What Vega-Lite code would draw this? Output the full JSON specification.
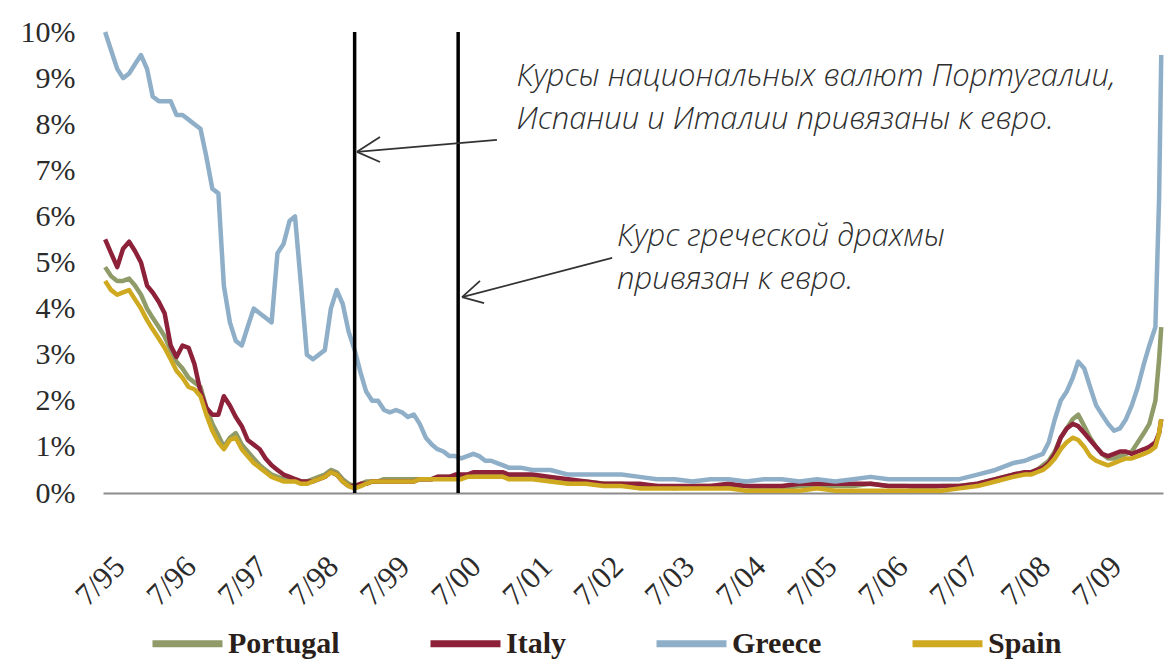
{
  "$schema": "https://vega.github.io/schema/vega-lite/v6.json",
  "width": 1060,
  "height": 461,
  "autosize": {"type": "none"},
  "padding": {"left": 103, "top": 32, "right": 2, "bottom": 173},
  "background": "white",
  "config": {"view": {"stroke": null}},
  "datasets": {
    "spreads": [
      {"date":"1995-07-01","Portugal":4.9,"Italy":5.5,"Greece":10.0,"Spain":4.6},
      {"date":"1995-08-01","Portugal":4.7,"Italy":5.2,"Greece":9.6,"Spain":4.4},
      {"date":"1995-09-01","Portugal":4.6,"Italy":4.9,"Greece":9.2,"Spain":4.3},
      {"date":"1995-10-01","Portugal":4.6,"Italy":5.3,"Greece":9.0,"Spain":4.35},
      {"date":"1995-11-01","Portugal":4.65,"Italy":5.45,"Greece":9.1,"Spain":4.4},
      {"date":"1995-12-01","Portugal":4.5,"Italy":5.25,"Greece":9.3,"Spain":4.2},
      {"date":"1996-01-01","Portugal":4.3,"Italy":5.0,"Greece":9.5,"Spain":4.0},
      {"date":"1996-02-01","Portugal":4.0,"Italy":4.5,"Greece":9.2,"Spain":3.75},
      {"date":"1996-03-01","Portugal":3.8,"Italy":4.35,"Greece":8.6,"Spain":3.55},
      {"date":"1996-04-01","Portugal":3.6,"Italy":4.15,"Greece":8.5,"Spain":3.35},
      {"date":"1996-05-01","Portugal":3.4,"Italy":3.9,"Greece":8.5,"Spain":3.15},
      {"date":"1996-06-01","Portugal":3.1,"Italy":3.2,"Greece":8.5,"Spain":2.9},
      {"date":"1996-07-01","Portugal":2.85,"Italy":2.95,"Greece":8.2,"Spain":2.65},
      {"date":"1996-08-01","Portugal":2.7,"Italy":3.2,"Greece":8.2,"Spain":2.5},
      {"date":"1996-09-01","Portugal":2.5,"Italy":3.15,"Greece":8.1,"Spain":2.3},
      {"date":"1996-10-01","Portugal":2.4,"Italy":2.8,"Greece":8.0,"Spain":2.25},
      {"date":"1996-11-01","Portugal":2.3,"Italy":2.2,"Greece":7.9,"Spain":2.1},
      {"date":"1996-12-01","Portugal":1.85,"Italy":1.85,"Greece":7.3,"Spain":1.7},
      {"date":"1997-01-01","Portugal":1.5,"Italy":1.7,"Greece":6.6,"Spain":1.35},
      {"date":"1997-02-01","Portugal":1.25,"Italy":1.7,"Greece":6.5,"Spain":1.1},
      {"date":"1997-03-01","Portugal":1.0,"Italy":2.1,"Greece":4.5,"Spain":0.95},
      {"date":"1997-04-01","Portugal":1.2,"Italy":1.9,"Greece":3.7,"Spain":1.15},
      {"date":"1997-05-01","Portugal":1.3,"Italy":1.65,"Greece":3.3,"Spain":1.2},
      {"date":"1997-06-01","Portugal":1.05,"Italy":1.45,"Greece":3.2,"Spain":0.95},
      {"date":"1997-07-01","Portugal":0.9,"Italy":1.15,"Greece":3.6,"Spain":0.8},
      {"date":"1997-08-01","Portugal":0.75,"Italy":1.05,"Greece":4.0,"Spain":0.65},
      {"date":"1997-09-01","Portugal":0.6,"Italy":0.95,"Greece":3.9,"Spain":0.55},
      {"date":"1997-10-01","Portugal":0.5,"Italy":0.75,"Greece":3.8,"Spain":0.45},
      {"date":"1997-11-01","Portugal":0.4,"Italy":0.6,"Greece":3.7,"Spain":0.35},
      {"date":"1997-12-01","Portugal":0.35,"Italy":0.5,"Greece":5.2,"Spain":0.3},
      {"date":"1998-01-01","Portugal":0.3,"Italy":0.4,"Greece":5.4,"Spain":0.25},
      {"date":"1998-02-01","Portugal":0.3,"Italy":0.35,"Greece":5.9,"Spain":0.25},
      {"date":"1998-03-01","Portugal":0.3,"Italy":0.3,"Greece":6.0,"Spain":0.25},
      {"date":"1998-04-01","Portugal":0.25,"Italy":0.25,"Greece":4.5,"Spain":0.2},
      {"date":"1998-05-01","Portugal":0.25,"Italy":0.25,"Greece":3.0,"Spain":0.2},
      {"date":"1998-06-01","Portugal":0.3,"Italy":0.25,"Greece":2.9,"Spain":0.25},
      {"date":"1998-07-01","Portugal":0.35,"Italy":0.3,"Greece":3.0,"Spain":0.3},
      {"date":"1998-08-01","Portugal":0.4,"Italy":0.35,"Greece":3.1,"Spain":0.35},
      {"date":"1998-09-01","Portugal":0.5,"Italy":0.45,"Greece":4.0,"Spain":0.45},
      {"date":"1998-10-01","Portugal":0.45,"Italy":0.4,"Greece":4.4,"Spain":0.4},
      {"date":"1998-11-01","Portugal":0.3,"Italy":0.25,"Greece":4.1,"Spain":0.25},
      {"date":"1998-12-01","Portugal":0.2,"Italy":0.15,"Greece":3.5,"Spain":0.15},
      {"date":"1999-01-01","Portugal":0.15,"Italy":0.15,"Greece":3.1,"Spain":0.1},
      {"date":"1999-02-01","Portugal":0.2,"Italy":0.2,"Greece":2.6,"Spain":0.15},
      {"date":"1999-03-01","Portugal":0.25,"Italy":0.2,"Greece":2.2,"Spain":0.2},
      {"date":"1999-04-01","Portugal":0.25,"Italy":0.25,"Greece":2.0,"Spain":0.25},
      {"date":"1999-05-01","Portugal":0.25,"Italy":0.25,"Greece":2.0,"Spain":0.25},
      {"date":"1999-06-01","Portugal":0.3,"Italy":0.25,"Greece":1.8,"Spain":0.25},
      {"date":"1999-07-01","Portugal":0.3,"Italy":0.25,"Greece":1.75,"Spain":0.25},
      {"date":"1999-08-01","Portugal":0.3,"Italy":0.25,"Greece":1.8,"Spain":0.25},
      {"date":"1999-09-01","Portugal":0.3,"Italy":0.25,"Greece":1.75,"Spain":0.25},
      {"date":"1999-10-01","Portugal":0.3,"Italy":0.25,"Greece":1.65,"Spain":0.25},
      {"date":"1999-11-01","Portugal":0.3,"Italy":0.25,"Greece":1.7,"Spain":0.25},
      {"date":"1999-12-01","Portugal":0.3,"Italy":0.3,"Greece":1.5,"Spain":0.3},
      {"date":"2000-01-01","Portugal":0.3,"Italy":0.3,"Greece":1.2,"Spain":0.3},
      {"date":"2000-02-01","Portugal":0.3,"Italy":0.3,"Greece":1.05,"Spain":0.3},
      {"date":"2000-03-01","Portugal":0.35,"Italy":0.35,"Greece":0.95,"Spain":0.3},
      {"date":"2000-04-01","Portugal":0.35,"Italy":0.35,"Greece":0.9,"Spain":0.3},
      {"date":"2000-05-01","Portugal":0.35,"Italy":0.35,"Greece":0.8,"Spain":0.3},
      {"date":"2000-06-01","Portugal":0.35,"Italy":0.4,"Greece":0.8,"Spain":0.3},
      {"date":"2000-07-01","Portugal":0.35,"Italy":0.4,"Greece":0.75,"Spain":0.3},
      {"date":"2000-08-01","Portugal":0.4,"Italy":0.4,"Greece":0.8,"Spain":0.35},
      {"date":"2000-09-01","Portugal":0.4,"Italy":0.45,"Greece":0.85,"Spain":0.35},
      {"date":"2000-10-01","Portugal":0.4,"Italy":0.45,"Greece":0.8,"Spain":0.35},
      {"date":"2000-11-01","Portugal":0.4,"Italy":0.45,"Greece":0.7,"Spain":0.35},
      {"date":"2000-12-01","Portugal":0.4,"Italy":0.45,"Greece":0.7,"Spain":0.35},
      {"date":"2001-01-01","Portugal":0.4,"Italy":0.45,"Greece":0.65,"Spain":0.35},
      {"date":"2001-02-01","Portugal":0.4,"Italy":0.45,"Greece":0.6,"Spain":0.35},
      {"date":"2001-03-01","Portugal":0.35,"Italy":0.4,"Greece":0.55,"Spain":0.3},
      {"date":"2001-04-01","Portugal":0.35,"Italy":0.4,"Greece":0.55,"Spain":0.3},
      {"date":"2001-05-01","Portugal":0.35,"Italy":0.4,"Greece":0.55,"Spain":0.3},
      {"date":"2001-07-01","Portugal":0.35,"Italy":0.4,"Greece":0.5,"Spain":0.3},
      {"date":"2001-10-01","Portugal":0.3,"Italy":0.35,"Greece":0.5,"Spain":0.25},
      {"date":"2002-01-01","Portugal":0.25,"Italy":0.3,"Greece":0.4,"Spain":0.2},
      {"date":"2002-04-01","Portugal":0.25,"Italy":0.25,"Greece":0.4,"Spain":0.2},
      {"date":"2002-07-01","Portugal":0.2,"Italy":0.2,"Greece":0.4,"Spain":0.15},
      {"date":"2002-10-01","Portugal":0.2,"Italy":0.2,"Greece":0.4,"Spain":0.15},
      {"date":"2003-01-01","Portugal":0.15,"Italy":0.2,"Greece":0.35,"Spain":0.1},
      {"date":"2003-04-01","Portugal":0.15,"Italy":0.15,"Greece":0.3,"Spain":0.1},
      {"date":"2003-07-01","Portugal":0.1,"Italy":0.15,"Greece":0.3,"Spain":0.1},
      {"date":"2003-10-01","Portugal":0.15,"Italy":0.15,"Greece":0.25,"Spain":0.1},
      {"date":"2004-01-01","Portugal":0.15,"Italy":0.15,"Greece":0.3,"Spain":0.1},
      {"date":"2004-04-01","Portugal":0.15,"Italy":0.2,"Greece":0.3,"Spain":0.1},
      {"date":"2004-07-01","Portugal":0.15,"Italy":0.15,"Greece":0.25,"Spain":0.05},
      {"date":"2004-10-01","Portugal":0.1,"Italy":0.15,"Greece":0.3,"Spain":0.05},
      {"date":"2005-01-01","Portugal":0.1,"Italy":0.15,"Greece":0.3,"Spain":0.05},
      {"date":"2005-04-01","Portugal":0.15,"Italy":0.2,"Greece":0.25,"Spain":0.05},
      {"date":"2005-07-01","Portugal":0.15,"Italy":0.2,"Greece":0.3,"Spain":0.1},
      {"date":"2005-10-01","Portugal":0.15,"Italy":0.2,"Greece":0.25,"Spain":0.05},
      {"date":"2006-01-01","Portugal":0.15,"Italy":0.2,"Greece":0.3,"Spain":0.05},
      {"date":"2006-04-01","Portugal":0.2,"Italy":0.2,"Greece":0.35,"Spain":0.05},
      {"date":"2006-07-01","Portugal":0.15,"Italy":0.15,"Greece":0.3,"Spain":0.05},
      {"date":"2006-10-01","Portugal":0.15,"Italy":0.15,"Greece":0.3,"Spain":0.05},
      {"date":"2007-01-01","Portugal":0.1,"Italy":0.15,"Greece":0.3,"Spain":0.05},
      {"date":"2007-04-01","Portugal":0.15,"Italy":0.15,"Greece":0.3,"Spain":0.05},
      {"date":"2007-07-01","Portugal":0.15,"Italy":0.15,"Greece":0.3,"Spain":0.1},
      {"date":"2007-10-01","Portugal":0.2,"Italy":0.2,"Greece":0.4,"Spain":0.15},
      {"date":"2008-01-01","Portugal":0.3,"Italy":0.3,"Greece":0.5,"Spain":0.25},
      {"date":"2008-04-01","Portugal":0.4,"Italy":0.4,"Greece":0.65,"Spain":0.35},
      {"date":"2008-06-01","Portugal":0.45,"Italy":0.45,"Greece":0.7,"Spain":0.4},
      {"date":"2008-07-01","Portugal":0.45,"Italy":0.45,"Greece":0.75,"Spain":0.4},
      {"date":"2008-08-01","Portugal":0.5,"Italy":0.5,"Greece":0.8,"Spain":0.45},
      {"date":"2008-09-01","Portugal":0.6,"Italy":0.55,"Greece":0.85,"Spain":0.5},
      {"date":"2008-10-01","Portugal":0.7,"Italy":0.65,"Greece":1.1,"Spain":0.6},
      {"date":"2008-11-01","Portugal":0.9,"Italy":0.85,"Greece":1.6,"Spain":0.75},
      {"date":"2008-12-01","Portugal":1.2,"Italy":1.2,"Greece":2.0,"Spain":0.95},
      {"date":"2009-01-01","Portugal":1.4,"Italy":1.4,"Greece":2.2,"Spain":1.1},
      {"date":"2009-02-01","Portugal":1.6,"Italy":1.5,"Greece":2.5,"Spain":1.2},
      {"date":"2009-03-01","Portugal":1.7,"Italy":1.45,"Greece":2.85,"Spain":1.15},
      {"date":"2009-04-01","Portugal":1.45,"Italy":1.3,"Greece":2.7,"Spain":1.0},
      {"date":"2009-05-01","Portugal":1.2,"Italy":1.15,"Greece":2.3,"Spain":0.8},
      {"date":"2009-06-01","Portugal":1.0,"Italy":1.0,"Greece":1.9,"Spain":0.7},
      {"date":"2009-07-01","Portugal":0.85,"Italy":0.85,"Greece":1.7,"Spain":0.65},
      {"date":"2009-08-01","Portugal":0.75,"Italy":0.8,"Greece":1.5,"Spain":0.6},
      {"date":"2009-09-01","Portugal":0.75,"Italy":0.85,"Greece":1.35,"Spain":0.65},
      {"date":"2009-10-01","Portugal":0.8,"Italy":0.9,"Greece":1.4,"Spain":0.7},
      {"date":"2009-11-01","Portugal":0.85,"Italy":0.9,"Greece":1.6,"Spain":0.75},
      {"date":"2009-12-01","Portugal":0.9,"Italy":0.85,"Greece":1.9,"Spain":0.75},
      {"date":"2010-01-01","Portugal":1.1,"Italy":0.9,"Greece":2.3,"Spain":0.8},
      {"date":"2010-02-01","Portugal":1.3,"Italy":0.95,"Greece":2.8,"Spain":0.85},
      {"date":"2010-03-01","Portugal":1.5,"Italy":1.0,"Greece":3.2,"Spain":0.9},
      {"date":"2010-04-01","Portugal":2.0,"Italy":1.1,"Greece":3.6,"Spain":1.0},
      {"date":"2010-04-20","Portugal":2.9,"Italy":1.3,"Greece":6.4,"Spain":1.3},
      {"date":"2010-05-01","Portugal":3.6,"Italy":1.6,"Greece":9.5,"Spain":1.6}
    ],
    "events": [
      {"date":"1999-01-01"},
      {"date":"2000-06-15"}
    ],
    "arrows": [
      {"from":"2000-12-31","fromV":7.66,"to":"1999-01-13","toV":7.40},
      {"from":"1999-05-11","fromV":7.72,"to":"1999-01-13","toV":7.40},
      {"from":"1999-05-11","fromV":7.18,"to":"1999-01-13","toV":7.40},
      {"from":"2002-08-14","fromV":5.10,"to":"2000-07-05","toV":4.25},
      {"from":"2000-10-05","fromV":4.60,"to":"2000-07-05","toV":4.25},
      {"from":"2000-10-26","fromV":4.12,"to":"2000-07-05","toV":4.25}
    ],
    "notes": [
      {"date":"2001-04-10","v":8.83,"text":"Курсы национальных валют Португалии,"},
      {"date":"2001-04-10","v":7.90,"text":"Испании и Италии привязаны к евро."},
      {"date":"2002-09-08","v":5.35,"text":"Курс греческой драхмы"},
      {"date":"2002-09-08","v":4.42,"text":"привязан к евро."}
    ]
  },
  "layer": [
    {
      "data": {"name": "spreads"},
      "transform": [
        {"fold": ["Portugal", "Italy", "Greece", "Spain"], "as": ["country", "spread"]}
      ],
      "mark": {"type": "line", "strokeWidth": 4.5, "strokeJoin": "round"},
      "encoding": {
        "x": {
          "field": "date",
          "type": "temporal",
          "scale": {
            "type": "utc",
            "domain": [
              {"year": 1995, "month": 6, "date": 20, "utc": true},
              {"year": 2010, "month": 5, "date": 10, "utc": true}
            ]
          },
          "axis": {
            "title": null,
            "grid": false,
            "ticks": false,
            "domainColor": "#8c8c8c",
            "domainWidth": 2,
            "values": [
              {"year": 1995, "month": 7, "date": 1, "utc": true},
              {"year": 1996, "month": 7, "date": 1, "utc": true},
              {"year": 1997, "month": 7, "date": 1, "utc": true},
              {"year": 1998, "month": 7, "date": 1, "utc": true},
              {"year": 1999, "month": 7, "date": 1, "utc": true},
              {"year": 2000, "month": 7, "date": 1, "utc": true},
              {"year": 2001, "month": 7, "date": 1, "utc": true},
              {"year": 2002, "month": 7, "date": 1, "utc": true},
              {"year": 2003, "month": 7, "date": 1, "utc": true},
              {"year": 2004, "month": 7, "date": 1, "utc": true},
              {"year": 2005, "month": 7, "date": 1, "utc": true},
              {"year": 2006, "month": 7, "date": 1, "utc": true},
              {"year": 2007, "month": 7, "date": 1, "utc": true},
              {"year": 2008, "month": 7, "date": 1, "utc": true},
              {"year": 2009, "month": 7, "date": 1, "utc": true}
            ],
            "labelExpr": "utcFormat(datum.value, '%-m/%y')",
            "labelAngle": -45,
            "labelFont": "Liberation Serif",
            "labelFontSize": 31,
            "labelColor": "#2b2b2b",
            "labelPadding": 58,
            "labelOffset": 4,
            "labelOverlap": false,
            "labelFlush": false
          }
        },
        "y": {
          "field": "spread",
          "type": "quantitative",
          "scale": {"domain": [0, 10], "nice": false},
          "axis": {
            "title": null,
            "grid": false,
            "domain": false,
            "ticks": false,
            "values": [0, 1, 2, 3, 4, 5, 6, 7, 8, 9, 10],
            "labelExpr": "datum.value + '%'",
            "labelFont": "Liberation Serif",
            "labelFontSize": 30,
            "labelColor": "#2b2b2b",
            "labelPadding": 28
          }
        },
        "color": {
          "field": "country",
          "type": "nominal",
          "scale": {
            "domain": ["Portugal", "Italy", "Greece", "Spain"],
            "range": ["#8f9b68", "#8c2139", "#8fafc8", "#cfa91f"]
          },
          "legend": {
            "title": null,
            "orient": "none",
            "legendX": 46,
            "legendY": 573,
            "direction": "horizontal",
            "columns": 4,
            "columnPadding": 76,
            "symbolType": "stroke",
            "symbolSize": 4900,
            "symbolStrokeWidth": 7,
            "labelFont": "Liberation Serif",
            "labelFontSize": 30,
            "labelFontWeight": "bold",
            "labelColor": "#2a1f1a",
            "labelOffset": 2
          }
        }
      }
    },
    {
      "data": {"name": "events"},
      "mark": {"type": "rule", "color": "black", "strokeWidth": 3.5},
      "encoding": {
        "x": {"field": "date", "type": "temporal"}
      }
    },
    {
      "data": {"name": "arrows"},
      "mark": {"type": "rule", "color": "#333333", "strokeWidth": 1.8},
      "encoding": {
        "x": {"field": "from", "type": "temporal"},
        "x2": {"field": "to"},
        "y": {"field": "fromV", "type": "quantitative"},
        "y2": {"field": "toV"}
      }
    },
    {
      "data": {"name": "notes"},
      "mark": {
        "type": "text",
        "align": "left",
        "baseline": "alphabetic",
        "font": "Open Sans",
        "fontStyle": "italic",
        "fontWeight": 300,
        "fontSize": 31,
        "color": "#2e2e2e"
      },
      "encoding": {
        "x": {"field": "date", "type": "temporal"},
        "y": {"field": "v", "type": "quantitative"},
        "text": {"field": "text"}
      }
    }
  ]
}
